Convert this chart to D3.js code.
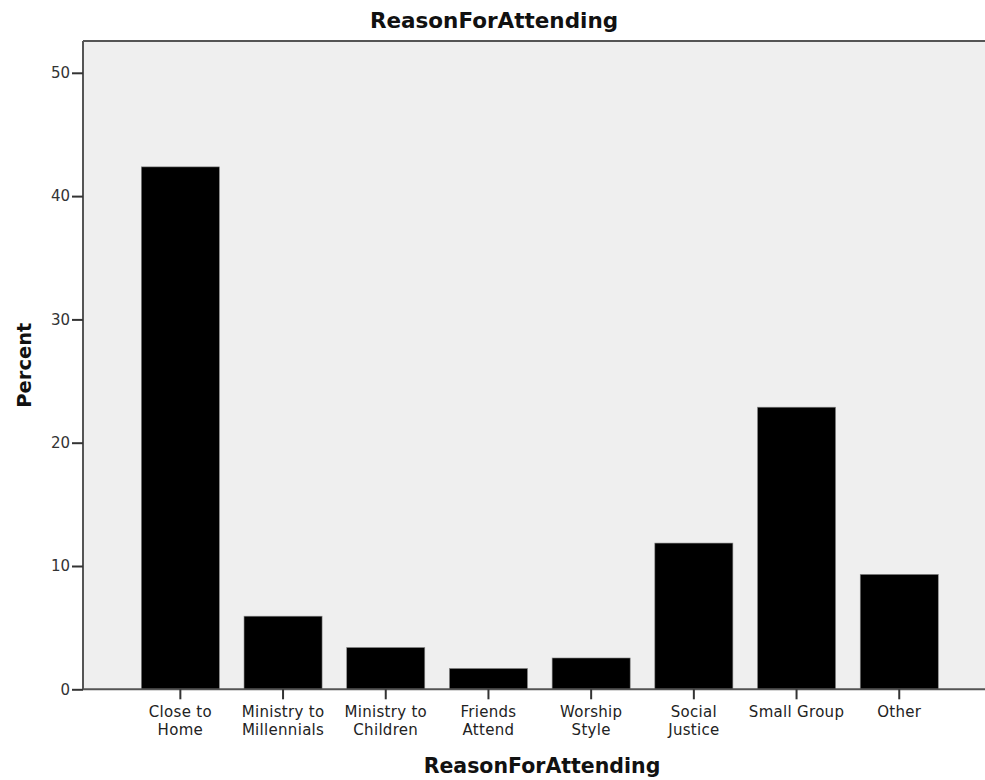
<!DOCTYPE html>
<html>
<head>
<meta charset="utf-8">
<script src="https://cdn.jsdelivr.net/npm/d3@7/dist/d3.min.js"></script>
<style>
  html, body { margin: 0; padding: 0; background: #fff; }
  svg { display: block; }
</style>
</head>
<body>
<script>
const categories = [
  ["Close to", "Home"],
  ["Ministry to", "Millennials"],
  ["Ministry to", "Children"],
  ["Friends", "Attend"],
  ["Worship", "Style"],
  ["Social", "Justice"],
  ["Small Group"],
  ["Other"]
];
const categoryKeys = ["Close to Home", "Ministry to Millennials", "Ministry to Children",
  "Friends Attend", "Worship Style", "Social Justice", "Small Group", "Other"];
const percentValues = [42.37, 5.93, 3.39, 1.69, 2.54, 11.86, 22.88, 9.32];
const yTicks = [0, 10, 20, 30, 40, 50];
const chartTitle = "ReasonForAttending";
const xTitle = "ReasonForAttending";
const yTitle = "Percent";

const W = 985, H = 780;
const plot = { left: 83, top: 41, right: 985, bottom: 689.3 };
const FONT = "'DejaVu Sans', sans-serif";

const svg = d3.select("body").append("svg").attr("width", W).attr("height", H);

const x = d3.scaleBand().domain(categoryKeys).range([129, 950.6]).paddingInner(0.24).paddingOuter(0.12);
const y = d3.scaleLinear().domain([0, 50]).range([plot.bottom, 72.8]);

// background
svg.append("rect").attr("x", plot.left).attr("y", plot.top)
  .attr("width", plot.right - plot.left).attr("height", plot.bottom - plot.top)
  .attr("fill", "#efefef");

// top border
svg.append("line").attr("x1", plot.left).attr("x2", plot.right)
  .attr("y1", plot.top).attr("y2", plot.top)
  .attr("stroke", "#555").attr("stroke-width", 2);

// bars
svg.append("g").selectAll("rect").data(percentValues).join("rect")
  .attr("x", (d, i) => x(categoryKeys[i]))
  .attr("width", x.bandwidth())
  .attr("y", d => y(d))
  .attr("height", d => y(0) - y(d))
  .attr("fill", "#000")
  .attr("stroke", "#888").attr("stroke-width", 0.6);

// y axis
const yAxis = svg.append("g").attr("transform", `translate(${plot.left},0)`)
  .call(d3.axisLeft(y).tickValues(yTicks).tickSize(11).tickPadding(2).tickSizeOuter(0));
yAxis.select(".domain").attr("stroke", "#555").attr("stroke-width", 2)
  .attr("d", `M0,${plot.top}V${plot.bottom}`);
yAxis.selectAll(".tick line").attr("stroke", "#333").attr("stroke-width", 2);
yAxis.selectAll(".tick text").attr("fill", "#333")
  .style("font-family", FONT).style("font-size", "15px");

// x axis
const xAxis = svg.append("g").attr("transform", `translate(0,${plot.bottom})`)
  .call(d3.axisBottom(x).tickSize(10).tickSizeOuter(0));
xAxis.select(".domain").attr("stroke", "#555").attr("stroke-width", 2)
  .attr("d", `M${plot.left},0H${plot.right}`);
xAxis.selectAll(".tick line").attr("stroke", "#333").attr("stroke-width", 2);
xAxis.selectAll(".tick text").remove();
xAxis.selectAll(".tick").each(function(d, i) {
  const t = d3.select(this).append("text")
    .attr("fill", "#222").attr("text-anchor", "middle")
    .style("font-family", FONT).style("font-size", "15px")
    .style("letter-spacing", "0.3px");
  categories[i].forEach((line, j) => {
    t.append("tspan").attr("x", 0).attr("y", 28 + j * 17.5).text(line);
  });
});

// titles
svg.append("text").attr("x", 494).attr("y", 28).attr("text-anchor", "middle")
  .style("font-family", FONT).style("font-weight", "bold")
  .style("font-size", "21.5px").attr("fill", "#111").text(chartTitle);

svg.append("text").attr("x", 542).attr("y", 773).attr("text-anchor", "middle")
  .style("font-family", FONT).style("font-weight", "bold")
  .style("font-size", "20.5px").attr("fill", "#111").text(xTitle);

svg.append("text").attr("transform", `translate(31,${(plot.top + plot.bottom) / 2}) rotate(-90)`)
  .attr("text-anchor", "middle")
  .style("font-family", FONT).style("font-weight", "bold")
  .style("font-size", "19.5px").attr("fill", "#111").text(yTitle);
</script>
</body>
</html>
